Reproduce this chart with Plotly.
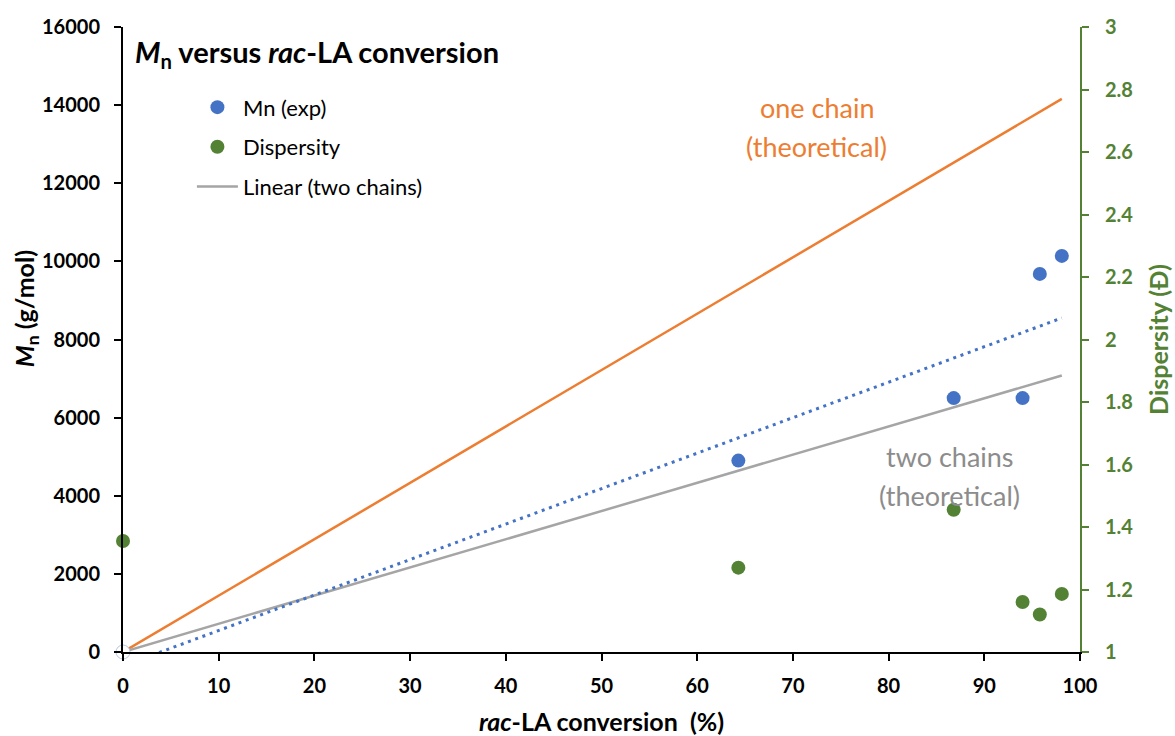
import numpy as np
import plotly.graph_objects as go

# rac-LA conversion (%) and measured values
conversion = [0, 64.3, 86.8, 94.0, 95.8, 98.1]
mn_exp = [0, 4900, 6500, 6500, 9680, 10140]
dispersity = [1.355, 1.27, 1.455, 1.16, 1.12, 1.186]

# theoretical Mn for one and two growing chains
theory_conv = [0, 98.1]
mn_one_chain = [0, 14160]
mn_two_chains = [0, 7080]

BLUE = "#4472C4"
ORANGE = "#ED7D31"
GREY = "#A5A5A5"
GREEN = "#548235"
FONT = "Lato"

# least-squares trendline through the experimental Mn values
slope, intercept = np.polyfit(conversion, mn_exp, 1)
trend_x = [conversion[0], conversion[-1]]
trend_y = [intercept + slope * x for x in trend_x]

fig = go.Figure()

fig.add_trace(go.Scatter(
    x=theory_conv, y=mn_one_chain, mode="lines",
    line=dict(color=ORANGE, width=2.5), showlegend=False,
))
fig.add_trace(go.Scatter(
    x=theory_conv, y=mn_two_chains, mode="lines", name="Linear (two chains)",
    line=dict(color=GREY, width=2.5), legendgroup="c", legendrank=3,
))
fig.add_trace(go.Scatter(
    x=trend_x, y=trend_y, mode="lines",
    line=dict(color=BLUE, width=3, dash="3px,4.7px"), showlegend=False,
))
# starting point (zero conversion) drawn as an open marker
fig.add_trace(go.Scatter(
    x=conversion[:1], y=mn_exp[:1], mode="markers", cliponaxis=False,
    marker=dict(size=14, color="white", line=dict(color="#B4C7E7", width=1)),
    showlegend=False,
))
fig.add_trace(go.Scatter(
    x=conversion[1:], y=mn_exp[1:], mode="markers", name="Mn (exp)", cliponaxis=False,
    marker=dict(size=14, color=BLUE), legendgroup="a", legendrank=1,
))
fig.add_trace(go.Scatter(
    x=conversion, y=dispersity, mode="markers", name="Dispersity", yaxis="y2",
    cliponaxis=False, marker=dict(size=14, color=GREEN), legendgroup="b", legendrank=2,
))

tick_font = dict(family=FONT, size=20, color="black", weight="bold")
title_size = 25

fig.update_layout(
    width=1175, height=736,
    margin=dict(l=123, r=95, t=27, b=84),
    paper_bgcolor="white", plot_bgcolor="white",
    font=dict(family=FONT),
    showlegend=True,
    legend=dict(
        x=0.072, y=0.905, xanchor="left", yanchor="top",
        font=dict(family=FONT, size=22, color="black"),
        bgcolor="rgba(0,0,0,0)", tracegroupgap=8, itemwidth=41,
    ),
    xaxis=dict(
        range=[0, 100], dtick=10, showgrid=False, zeroline=False, automargin=False,
        showline=True, linecolor="black", linewidth=2,
        ticks="outside", ticklen=7, tickwidth=2, tickcolor="black",
        tickfont=tick_font, ticklabelstandoff=8,
        title=dict(text="<i>rac</i>-LA conversion  (%)",
                   font=dict(family=FONT, size=title_size, color="black", weight="bold"),
                   standoff=20),
    ),
    yaxis=dict(
        range=[0, 16000], dtick=2000, tickformat="d", showgrid=False, zeroline=False,
        automargin=False,
        showline=True, linecolor="black", linewidth=2,
        ticks="outside", ticklen=7, tickwidth=2, tickcolor="black",
        tickfont=tick_font, ticklabelstandoff=10,
    ),
    yaxis2=dict(
        range=[1, 3], dtick=0.2, overlaying="y", side="right",
        showgrid=False, zeroline=False, automargin=False,
        showline=True, linecolor=GREEN, linewidth=2,
        ticks="outside", ticklen=7, tickwidth=2, tickcolor=GREEN,
        tickfont=dict(family=FONT, size=20, color=GREEN, weight="bold"),
        ticklabelstandoff=12,
        title=dict(text="Dispersity (Đ)",
                   font=dict(family=FONT, size=title_size, color=GREEN, weight="bold"),
                   standoff=18),
    ),
)

# left axis title, set slightly above the middle of the axis
fig.add_annotation(
    xref="paper", yref="paper", x=-0.102, y=0.549, xanchor="center", yanchor="middle",
    textangle=-90, showarrow=False,
    text="<b><i>M</i><sub>n</sub> (g/mol)</b>",
    font=dict(family=FONT, size=title_size, color="black"),
)
fig.add_annotation(
    xref="paper", yref="paper", x=0.01, y=0.957, xanchor="left", yanchor="middle",
    text="<b><i>M</i><sub>n</sub> versus <i>rac</i>-LA conversion</b>",
    showarrow=False, font=dict(family=FONT, size=29, color="black"),
)
for txt, yv in [("one chain", 13950), ("(theoretical)", 12930)]:
    fig.add_annotation(x=72.5, y=yv, text=txt, showarrow=False,
                       font=dict(family=FONT, size=27, color=ORANGE))
for txt, yv in [("two chains", 5010), ("(theoretical)", 4000)]:
    fig.add_annotation(x=86.4, y=yv, text=txt, showarrow=False,
                       font=dict(family=FONT, size=27, color="#8C8C8C"))

fig.write_html("out.html")
